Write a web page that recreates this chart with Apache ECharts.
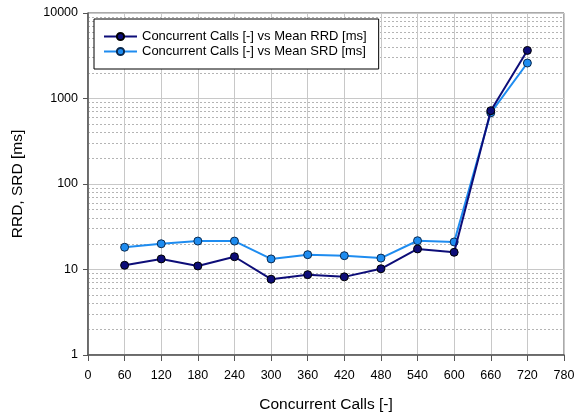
<!DOCTYPE html>
<html><head><meta charset="utf-8">
<script src="https://cdn.jsdelivr.net/npm/echarts@6/dist/echarts.min.js"></script>
<style>html,body{margin:0;padding:0;background:#fff}#c{width:581px;height:414px}</style>
</head><body><div id="c"></div>
<script>
var calls = [60,120,180,240,300,360,420,480,540,600,660,720];
var meanRRD = [11.2,13.3,11,14.1,7.7,8.7,8.2,10.2,17.4,15.9,720,3650];
var meanSRD = [18.2,20,21.5,21.5,13.3,14.9,14.5,13.6,21.7,21,680,2600];
var nameRRD = 'Concurrent Calls [-] vs Mean RRD [ms]';
var nameSRD = 'Concurrent Calls [-] vs Mean SRD [ms]';
var xName = 'Concurrent Calls [-]';
var yName = 'RRD, SRD [ms]';

function pairs(xs, ys){ return xs.map(function(x,i){return [x, ys[i]];}); }
var font = 'Liberation Sans, Arial, sans-serif';
var chart = echarts.init(document.getElementById('c'), null, {renderer:'canvas'});
chart.setOption({
  animation:false,
  backgroundColor:'#fff',
  textStyle:{fontFamily:font},
  grid:{left:88,right:17,top:13,bottom:59,outerBoundsMode:'none',containLabel:false,show:true,borderColor:'#555',borderWidth:1,backgroundColor:'transparent'},
  legend:{
    orient:'vertical', left:94, top:19, z:20,
    padding:[11,12,11,9], itemGap:2, itemWidth:33, itemHeight:9,
    backgroundColor:'#fff', borderColor:'#000', borderWidth:1,
    textStyle:{fontSize:13,color:'#000',fontFamily:font},
    data:[nameRRD,nameSRD]
  },
  xAxis:{
    type:'value', min:0, max:780, interval:60,
    name:xName, nameLocation:'middle', nameGap:42,
    nameTextStyle:{fontSize:15.5,color:'#000',fontFamily:font},
    axisLine:{show:true,onZero:false,lineStyle:{color:'#555',width:1.5}},
    axisTick:{show:true,length:6,lineStyle:{color:'#555'}},
    axisLabel:{fontSize:12.5,color:'#000',margin:14,fontFamily:font},
    splitLine:{show:true,lineStyle:{color:'#c8c8c8',width:1}}
  },
  yAxis:{
    type:'log', logBase:10, min:1, max:10000,
    name:yName, nameLocation:'middle', nameGap:62, nameRotate:90,
    nameTextStyle:{fontSize:15.5,color:'#000',fontFamily:font},
    axisLine:{show:true,lineStyle:{color:'#555',width:1.5}},
    axisTick:{show:true,length:5,lineStyle:{color:'#555'}},
    axisLabel:{fontSize:12.5,color:'#000',margin:10,fontFamily:font,formatter:function(v){return String(Math.round(v));}},
    splitLine:{show:true,lineStyle:{color:'#c8c8c8',width:1}},
    minorTick:{show:false,splitNumber:9},
    minorSplitLine:{show:true,lineStyle:{color:'#b4b4b4',type:[2,2],width:1}}
  },
  series:[
    {
      type:'line', name:nameRRD, data:pairs(calls,meanRRD),
      symbol:'circle', symbolSize:8,
      lineStyle:{color:'#0d0d78',width:2},
      itemStyle:{color:'#0d0d78',borderColor:'#000',borderWidth:1},
      z:4
    },
    {
      type:'line', name:nameSRD, data:pairs(calls,meanSRD),
      symbol:'circle', symbolSize:8,
      lineStyle:{color:'#1e8cf0',width:2},
      itemStyle:{color:'#1e8cf0',borderColor:'#0a2a50',borderWidth:1},
      z:3
    }
  ]
});
</script></body></html>
